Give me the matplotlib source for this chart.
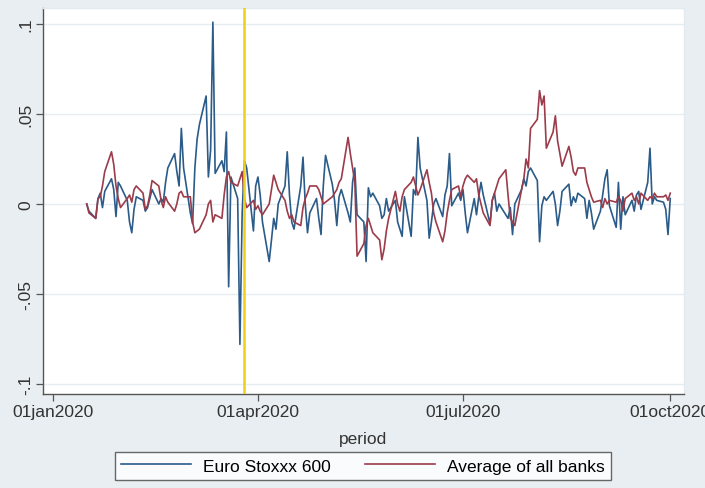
import numpy as np
import pandas as pd
import matplotlib
matplotlib.use("Agg")
import matplotlib.pyplot as plt

# trading days shown in the chart
start_day = "2020-01-16"
end_day = "2020-10-01"

# Euro Stoxxx 600, one value per business day
stoxx = (
    # jan 16-31
    [0.000, -0.004, -0.008, 0.003, 0.006, -0.002, 0.007, 0.014, 0.008, -0.007, 0.012, 0.010]
    # feb
    + [0.002, -0.010, -0.016, -0.003, 0.004, 0.002, -0.004, -0.002, 0.003, 0.008,
       0.000, 0.003, 0.001, 0.012, 0.020, 0.028, 0.018, 0.010, 0.042, 0.020]
    # mar
    + [-0.005, -0.011, 0.020, 0.036, 0.044, 0.060, 0.015, 0.030, 0.101, 0.017,
       0.024, 0.018, 0.040, -0.046, 0.015, 0.003, -0.078, -0.005, 0.024, 0.020,
       -0.015, 0.010]
    # apr
    + [0.015, 0.005, -0.010, -0.032, -0.020, -0.008, -0.014, 0.000, 0.010, 0.029,
       0.005, -0.010, -0.014, 0.010, 0.026, 0.000, -0.016, -0.005, 0.003, -0.008,
       -0.017, 0.010]
    # may
    + [0.027, 0.011, 0.002, -0.012, 0.004, 0.008, -0.005, -0.010, 0.012, 0.020,
       -0.006, -0.010, -0.032, 0.009, 0.004, 0.006, -0.001, -0.008, -0.006, 0.003,
       -0.004]
    # jun
    + [0.002, -0.010, -0.014, -0.018, 0.004, -0.018, 0.008, 0.005, 0.037, 0.020,
       0.002, -0.019, -0.010, 0.000, 0.003, -0.007, 0.005, 0.010, 0.028, -0.001,
       0.006, 0.002]
    # jul
    + [0.008, -0.005, -0.016, 0.003, -0.006, 0.004, 0.012, 0.005, -0.011, 0.002,
       0.006, -0.004, 0.000, -0.006, -0.008, -0.002, -0.017, 0.000, 0.008, 0.014,
       0.010, 0.018, 0.020]
    # aug
    + [0.013, -0.021, -0.001, 0.004, 0.002, 0.007, 0.000, -0.012, -0.004, 0.007,
       0.011, -0.001, 0.004, 0.001, 0.006, 0.003, -0.008, 0.002, -0.005, -0.014,
       -0.004]
    # sep
    + [0.005, 0.014, 0.019, -0.001, -0.013, 0.012, -0.014, 0.004, -0.006, 0.002,
       -0.004, 0.005, 0.007, -0.003, 0.012, 0.031, 0.000, 0.004, 0.002, 0.001,
       -0.003, -0.017]
    # oct 1
    + [0.003]
)

# Average of all banks
banks = (
    [0.000, -0.005, -0.008, 0.003, 0.004, 0.010, 0.018, 0.029, 0.022, 0.010, 0.003, -0.002]
    + [0.003, 0.005, 0.001, 0.008, 0.010, 0.006, -0.003, -0.001, 0.005, 0.013,
       0.010, 0.002, -0.002, 0.004, 0.001, -0.004, 0.000, 0.006, 0.007, 0.004]
    + [0.004, -0.010, -0.016, -0.015, -0.014, -0.006, 0.000, 0.002, -0.010, -0.006,
       -0.008, 0.005, 0.015, 0.018, 0.012, 0.010, 0.014, 0.018, 0.003, -0.002,
       0.002, -0.003]
    + [-0.001, -0.004, -0.006, 0.000, 0.008, 0.016, 0.012, 0.008, 0.002, -0.004,
       -0.008, -0.006, -0.010, -0.012, -0.002, 0.003, 0.006, 0.010, 0.010, 0.008,
       0.004, 0.000]
    + [0.001, 0.004, 0.006, 0.008, 0.012, 0.014, 0.037, 0.028, 0.020, 0.012,
       -0.029, -0.022, -0.012, -0.008, -0.012, -0.016, -0.020, -0.031, -0.025, -0.015,
       -0.008]
    + [0.007, 0.000, -0.004, 0.004, 0.008, 0.012, 0.015, 0.010, 0.005, 0.008,
       0.019, 0.012, 0.006, -0.005, -0.010, -0.021, -0.015, -0.005, 0.002, 0.008,
       0.010, 0.004]
    + [0.010, 0.014, 0.016, 0.012, 0.014, 0.005, 0.000, -0.005, -0.012, 0.002,
       0.006, 0.010, 0.014, 0.019, 0.005, -0.008, -0.010, -0.012, 0.008, 0.014,
       0.025, 0.020, 0.042]
    + [0.047, 0.063, 0.055, 0.060, 0.031, 0.040, 0.049, 0.035, 0.028, 0.021,
       0.032, 0.026, 0.018, 0.016, 0.020, 0.020, 0.012, 0.008, 0.004, 0.001,
       0.002]
    + [-0.002, 0.003, 0.000, 0.002, 0.001, 0.004, 0.002, -0.004, 0.003, 0.006,
       0.002, 0.004, 0.000, 0.006, 0.002, 0.004, 0.003, 0.006, 0.004, 0.004,
       0.005, 0.002]
    + [0.006]
)

event_day = "2020-03-26"
xtick_days = ["2020-01-01", "2020-04-01", "2020-07-01", "2020-10-01"]
xtick_labels = ["01jan2020", "01apr2020", "01jul2020", "01oct2020"]
yticks = [-0.1, -0.05, 0, 0.05, 0.1]
ytick_labels = ["-.1", "-.05", "0", ".05", ".1"]
series_labels = ["Euro Stoxxx 600", "Average of all banks"]

period = pd.bdate_range(start_day, end_day)
assert len(period) == len(stoxx) == len(banks)

plt.rcParams["font.family"] = ["Liberation Sans", "DejaVu Sans"]
fs = 12.5

bg = "#e8eef1"
fig = plt.figure(figsize=(7.05, 4.89), dpi=100, facecolor=bg)
ax = fig.add_axes([43 / 705, 1 - 395 / 489, 641 / 705, 386 / 489])
ax.set_facecolor("white")

for y in yticks:
    ax.axhline(y, color="#e6edf0", lw=1.0, zorder=0)

ax.plot(period, stoxx, color="#2b5b88", lw=1.2, label=series_labels[0], zorder=2)
ax.plot(period, banks, color="#9c3b4a", lw=1.2, label=series_labels[1], zorder=3)
ax.axvline(pd.Timestamp(event_day), color="#f0cf1a", lw=1.8, zorder=4)

jan1 = pd.Timestamp("2020-01-01")
ax.set_xlim(jan1 - pd.Timedelta(days=4.4), jan1 + pd.Timedelta(days=280.1))
ax.set_ylim(-0.1056, 0.1089)

ax.set_xticks([pd.Timestamp(d) for d in xtick_days])
ax.set_xticklabels(xtick_labels, fontsize=fs, color="#333333")
ax.set_yticks(yticks)
ax.set_yticklabels(ytick_labels, fontsize=fs, color="#333333", rotation=90, va="center")
ax.tick_params(axis="both", direction="out", length=5, width=0.9, color="#555555")
ax.tick_params(axis="x", pad=2)
ax.tick_params(axis="y", pad=2)

for side in ["left", "bottom"]:
    ax.spines[side].set_color("#555555")
    ax.spines[side].set_linewidth(1.0)
for side in ["top", "right"]:
    ax.spines[side].set_color("#e3eaee")
    ax.spines[side].set_linewidth(1.0)

ax.set_xlabel("period", fontsize=fs, color="#333333", labelpad=9)

leg = fig.legend(loc="center", bbox_to_anchor=(363 / 705, 1 - 467 / 489), ncol=2,
                 fontsize=fs, frameon=True, fancybox=False, handlelength=4.0,
                 handletextpad=0.7, columnspacing=2.0, borderpad=0.35)
leg.get_frame().set_edgecolor("#444444")
leg.get_frame().set_linewidth(1.0)
leg.get_frame().set_facecolor("white")

fig.savefig("out.png", dpi=100, facecolor=bg)
